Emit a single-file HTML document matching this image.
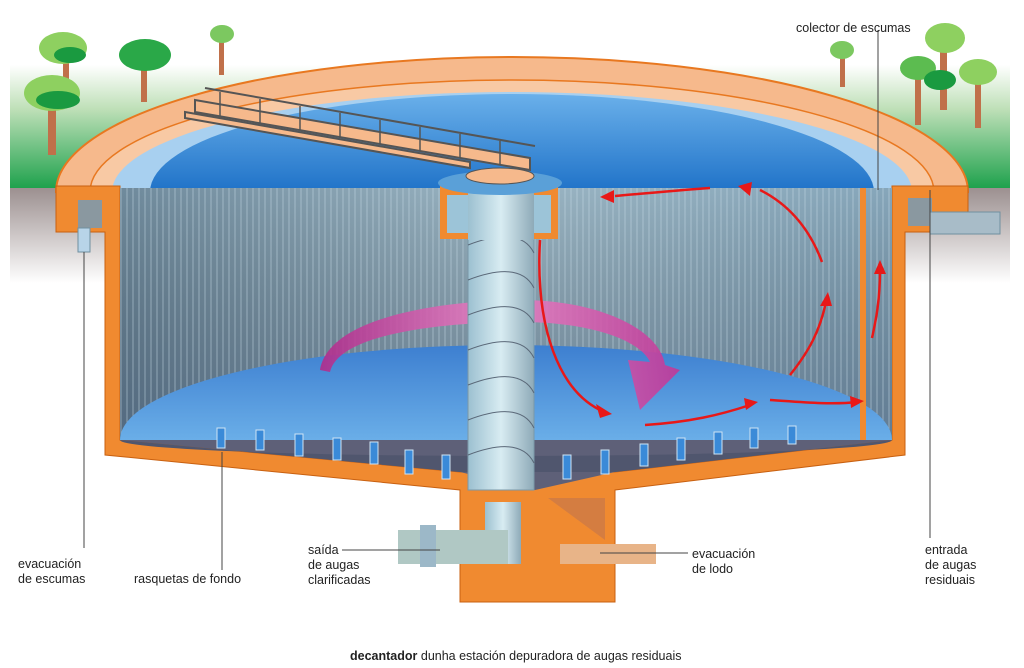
<!DOCTYPE html>
<html><head><meta charset="utf-8"><style>
body{margin:0;background:#fff;}
svg{display:block;font-family:"Liberation Sans",sans-serif;}
</style></head><body>
<svg width="1024" height="668" viewBox="0 0 1024 668" xmlns="http://www.w3.org/2000/svg">
<defs>
<linearGradient id="grn" x1="0" y1="0" x2="0" y2="1"><stop offset="0" stop-color="#fff"/><stop offset="0.35" stop-color="#bfe0b8"/><stop offset="1" stop-color="#1aa04a"/></linearGradient>
<linearGradient id="gry" x1="0" y1="0" x2="0" y2="1"><stop offset="0" stop-color="#9c9090"/><stop offset="1" stop-color="#fff"/></linearGradient>
<linearGradient id="surf" x1="0" y1="0" x2="0" y2="1"><stop offset="0" stop-color="#6ab0ea"/><stop offset="1" stop-color="#1f72c8"/></linearGradient>
<linearGradient id="vol" x1="0" y1="0" x2="1" y2="0"><stop offset="0" stop-color="#6f8a9c"/><stop offset="0.5" stop-color="#9ab4c2"/><stop offset="1" stop-color="#86a6ba"/></linearGradient>
<linearGradient id="volv" x1="0" y1="0" x2="0" y2="1"><stop offset="0" stop-color="#000" stop-opacity="0"/><stop offset="1" stop-color="#203050" stop-opacity="0.35"/></linearGradient>
<linearGradient id="botw" x1="0" y1="0" x2="0" y2="1"><stop offset="0" stop-color="#3d7fd0"/><stop offset="1" stop-color="#6aaee8"/></linearGradient>
<linearGradient id="col" x1="0" y1="0" x2="1" y2="0"><stop offset="0" stop-color="#9cc0d0"/><stop offset="0.5" stop-color="#d8ecf2"/><stop offset="1" stop-color="#8eaab8"/></linearGradient>
<linearGradient id="pink" x1="0" y1="0" x2="1" y2="0"><stop offset="0" stop-color="#b02c8c"/><stop offset="0.5" stop-color="#e884c4"/><stop offset="1" stop-color="#c03898"/></linearGradient>
<pattern id="vl" width="6" height="10" patternUnits="userSpaceOnUse"><line x1="1" y1="0" x2="1" y2="10" stroke="#c8dce8" stroke-width="1" opacity="0.5"/></pattern>
</defs>
<rect x="10" y="65" width="1000" height="125" fill="url(#grn)"/>
<rect x="10" y="188" width="1000" height="95" fill="url(#gry)"/>
<g>
<rect x="63" y="50" width="6" height="40" fill="#c0704a"/><ellipse cx="63" cy="48" rx="24" ry="16" fill="#8ed060"/><ellipse cx="70" cy="55" rx="16" ry="8" fill="#1a9a40"/>
<rect x="48" y="100" width="8" height="55" fill="#c0704a"/><ellipse cx="52" cy="93" rx="28" ry="18" fill="#8ed060"/><ellipse cx="58" cy="100" rx="22" ry="9" fill="#1a9a40"/>
<rect x="141" y="65" width="6" height="37" fill="#c0704a"/><ellipse cx="145" cy="55" rx="26" ry="16" fill="#2aa848"/>
<rect x="219" y="40" width="5" height="35" fill="#c0704a"/><ellipse cx="222" cy="34" rx="12" ry="9" fill="#7cc860"/>
<rect x="840" y="55" width="5" height="32" fill="#c0704a"/><ellipse cx="842" cy="50" rx="12" ry="9" fill="#7cc860"/>
<rect x="940" y="45" width="7" height="65" fill="#c0704a"/><ellipse cx="945" cy="38" rx="20" ry="15" fill="#8ed060"/>
<rect x="915" y="75" width="6" height="50" fill="#c0704a"/><ellipse cx="918" cy="68" rx="18" ry="12" fill="#5cbc50"/>
<rect x="975" y="78" width="6" height="50" fill="#c0704a"/><ellipse cx="978" cy="72" rx="19" ry="13" fill="#8ed060"/>
<ellipse cx="940" cy="80" rx="16" ry="10" fill="#1a9a40"/>
</g>
<path d="M56 192 A456 135 0 0 1 968 192 Z" fill="#f6b98c" stroke="#e87820" stroke-width="2"/>
<path d="M90 192 A422 112 0 0 1 934 192 Z" fill="#f8c9a4" stroke="#e87820" stroke-width="1.5"/>
<path d="M112 192 A400 100 0 0 1 912 192 Z" fill="#a8d0f0"/>
<path d="M150 192 A362 98 0 0 1 874 192 Z" fill="url(#surf)"/>
<path d="M56 186 H120 V440 L460 472 H615 L892 440 V186 H968 V232 H905 V455 L615 490 V602 H460 V490 L105 455 V232 H56 Z" fill="#f08a30" stroke="#c86010" stroke-width="1"/>
<rect x="78" y="200" width="24" height="28" fill="#8a98a0"/>
<rect x="908" y="198" width="24" height="28" fill="#8a98a0"/>
<rect x="78" y="228" width="12" height="24" fill="#b8d4e8" stroke="#7090a0"/>
<path d="M930 212 H1000 V234 H930 Z" fill="#a8bcc8" stroke="#7090a0"/>
<rect x="120" y="188" width="772" height="252" fill="url(#vol)"/>
<rect x="120" y="188" width="772" height="252" fill="url(#volv)"/>
<rect x="120" y="188" width="772" height="252" fill="url(#vl)"/>
<path d="M120 440 A386 95 0 0 1 892 440 Z" fill="url(#botw)"/>
<path d="M120 440 L460 472 L535 490 L615 472 L892 440 Z" fill="#5e6078"/>
<path d="M120 440 A386 16 0 0 0 892 440 L615 472 H460 Z" fill="#50566e"/>
<rect x="860" y="188" width="6" height="252" fill="#f08a30"/>
<g fill="#3a8ad8" stroke="#cfe4f4" stroke-width="1">
<rect x="217" y="428" width="8" height="20"/><rect x="256" y="430" width="8" height="20"/><rect x="295" y="434" width="8" height="22"/><rect x="333" y="438" width="8" height="22"/><rect x="370" y="442" width="8" height="22"/><rect x="405" y="450" width="8" height="24"/><rect x="442" y="455" width="8" height="24"/>
<rect x="563" y="455" width="8" height="24"/><rect x="601" y="450" width="8" height="24"/><rect x="640" y="444" width="8" height="22"/><rect x="677" y="438" width="8" height="22"/><rect x="714" y="432" width="8" height="22"/><rect x="750" y="428" width="8" height="20"/><rect x="788" y="426" width="8" height="18"/>
</g>
<path d="M320 370 C330 310 470 300 520 300 C600 300 660 330 665 365 L680 370 L640 410 L628 360 L650 362 C640 340 590 322 520 322 C460 322 340 330 330 372 Z" fill="url(#pink)" opacity="0.9"/>
<rect x="468" y="190" width="66" height="300" fill="url(#col)" stroke="#7a98a8"/>
<g stroke="#5a6878" fill="none" stroke-width="1">
<path d="M468 210 Q520 190 534 218"/><path d="M468 245 Q520 225 534 253"/><path d="M468 280 Q520 260 534 288"/><path d="M468 315 Q520 295 534 323"/><path d="M468 350 Q520 330 534 358"/><path d="M468 385 Q520 365 534 393"/><path d="M468 420 Q520 400 534 428"/><path d="M468 455 Q520 435 534 463"/>
</g>
<rect x="440" y="185" width="118" height="54" fill="#f08a30"/>
<rect x="447" y="195" width="104" height="38" fill="#9cc4d8"/>
<rect x="468" y="190" width="66" height="50" fill="url(#col)"/>
<ellipse cx="500" cy="183" rx="62" ry="12" fill="#5aa0d8"/>
<ellipse cx="500" cy="176" rx="34" ry="8" fill="#f6b98c" stroke="#555"/>
<g stroke="#555" stroke-width="2" fill="#f6b98c">
<path d="M195 100 L530 158 L530 170 L195 112 Z"/>
<path d="M205 88 L535 146" fill="none"/>
<path d="M185 112 L470 162 L470 168 L185 118 Z"/>
</g>
<g stroke="#555" stroke-width="1.5">
<line x1="220" y1="92" x2="220" y2="116"/><line x1="260" y1="99" x2="260" y2="123"/><line x1="300" y1="106" x2="300" y2="130"/><line x1="340" y1="113" x2="340" y2="137"/><line x1="380" y1="120" x2="380" y2="144"/><line x1="420" y1="127" x2="420" y2="151"/><line x1="460" y1="134" x2="460" y2="158"/><line x1="500" y1="141" x2="500" y2="165"/>
</g>
<rect x="485" y="502" width="36" height="62" fill="url(#col)"/>
<rect x="398" y="530" width="110" height="34" fill="#b0c8c4"/>
<rect x="420" y="525" width="16" height="42" fill="#9cb8c8"/>
<rect x="560" y="544" width="96" height="20" fill="#e8b488"/>
<path d="M548 498 L605 498 L605 540 Z" fill="#c87848" opacity="0.7"/>
<g stroke="#e81818" stroke-width="2.5" fill="none">
<path d="M540 240 C535 330 560 390 600 410"/>
<path d="M645 425 C690 422 720 415 750 405"/>
<path d="M770 400 C800 402 830 405 858 402"/>
<path d="M790 375 C810 350 820 330 826 302"/>
<path d="M822 262 C810 230 790 205 760 190"/>
<path d="M710 188 C680 190 650 193 615 196"/>
<path d="M872 338 C876 320 880 300 880 270"/>
</g>
<g fill="#e81818">
<path d="M612 414 L596 404 L600 418 Z"/><path d="M758 402 L744 398 L746 410 Z"/><path d="M864 401 L850 396 L851 408 Z"/>
<path d="M828 292 L820 306 L832 306 Z"/><path d="M738 186 L752 182 L750 196 Z"/><path d="M600 197 L614 190 L614 203 Z"/><path d="M880 260 L874 274 L886 274 Z"/>
</g>
<g stroke="#444" stroke-width="1">
<line x1="84" y1="252" x2="84" y2="548"/>
<line x1="222" y1="452" x2="222" y2="570"/>
<line x1="342" y1="550" x2="440" y2="550"/>
<line x1="600" y1="553" x2="688" y2="553"/>
<line x1="930" y1="190" x2="930" y2="538"/>
<line x1="878" y1="30" x2="878" y2="190"/>
</g>
<g font-size="12.5" fill="#222">
<text x="18" y="568">evacuación</text><text x="18" y="583">de escumas</text>
<text x="134" y="583">rasquetas de fondo</text>
<text x="308" y="554">saída</text><text x="308" y="569">de augas</text><text x="308" y="584">clarificadas</text>
<text x="692" y="558">evacuación</text><text x="692" y="573">de lodo</text>
<text x="925" y="554">entrada</text><text x="925" y="569">de augas</text><text x="925" y="584">residuais</text>
<text x="796" y="32">colector de escumas</text>
<text x="350" y="660"><tspan font-weight="bold">decantador</tspan> dunha estación depuradora de augas residuais</text>
</g>
</svg>
</body></html>
